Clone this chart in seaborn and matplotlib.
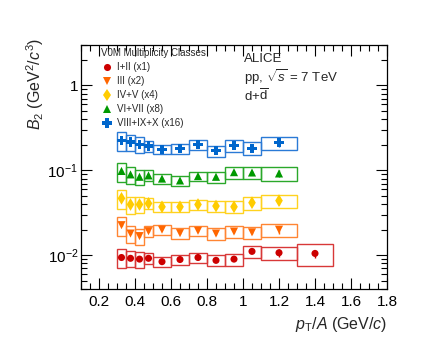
import numpy as np
import pandas as pd
import matplotlib
matplotlib.use("Agg")
import matplotlib.pyplot as plt
import seaborn as sns
from matplotlib.patches import Rectangle
from matplotlib.ticker import MultipleLocator, LogLocator, FuncFormatter, NullFormatter, FixedLocator

# ---------------- data ----------------
bin_lo = [0.30, 0.35, 0.40, 0.45, 0.50, 0.60, 0.70, 0.80, 0.90, 1.00, 1.10, 1.30]
bin_hi = [0.35, 0.40, 0.45, 0.50, 0.60, 0.70, 0.80, 0.90, 1.00, 1.10, 1.30, 1.50]

classes = ["I+II (x1)", "III (x2)", "IV+V (x4)", "VI+VII (x8)", "VIII+IX+X (x16)"]
scale = [1, 2, 4, 8, 16]

b2_I_II = [0.0094, 0.0092, 0.0090, 0.0092, 0.0084, 0.0089, 0.0094, 0.0087, 0.0090, 0.0111, 0.0107, 0.0105]
b2_III = [0.0113, 0.0090, 0.0084, 0.0096, 0.0100, 0.0091, 0.0097, 0.0090, 0.0095, 0.0093, 0.0100]
b2_IV_V = [0.0117, 0.0099, 0.0099, 0.0102, 0.0093, 0.0093, 0.0099, 0.0095, 0.0093, 0.0104, 0.0110]
b2_VI_VII = [0.0123, 0.0112, 0.0105, 0.0109, 0.0100, 0.0095, 0.0107, 0.0105, 0.0119, 0.0118, 0.0115]
b2_VIII_X = [0.0142, 0.0135, 0.0126, 0.0121, 0.0111, 0.0113, 0.0126, 0.0106, 0.0123, 0.0114, 0.0132]

syst_rel = [0.25, 0.22, 0.21, 0.15, 0.13, 0.14, 0.13, 0.15, 0.16, 0.17, 0.18, 0.28]
stat_rel = [0.02, 0.02, 0.02, 0.02, 0.02, 0.02, 0.02, 0.03, 0.03, 0.04, 0.10, 0.11]

colors = ["#cc0000", "#ff6600", "#ffcc00", "#009900", "#0066cc"]
box_colors = ["#d83838", "#ff8533", "#ffd21f", "#2aa82a", "#2a7ad6"]
markers = ["o", "v", "d", "^", "P"]
msizes = [26, 34, 42, 34, 44]

series = [b2_I_II, b2_III, b2_IV_V, b2_VI_VII, b2_VIII_X]

rows = []
for cls, sc, vals in zip(classes, scale, series):
    for i, v in enumerate(vals):
        rows.append(dict(cls=cls, x=(bin_lo[i] + bin_hi[i]) / 2, lo=bin_lo[i], hi=bin_hi[i],
                         y=v * sc, syst=syst_rel[i], stat=stat_rel[i]))
df = pd.DataFrame(rows)

# ---------------- style ----------------
sns.set_style("ticks")
plt.rcParams["font.family"] = ["Liberation Sans", "DejaVu Sans"]
plt.rcParams["mathtext.fontset"] = "custom"
plt.rcParams["mathtext.rm"] = "Liberation Sans"
plt.rcParams["mathtext.it"] = "Liberation Sans:italic"
plt.rcParams["mathtext.bf"] = "Liberation Sans:bold"

W, H = 433, 339
fig = plt.figure(figsize=(W / 100, H / 100), dpi=100)
ax = fig.add_axes([81 / W, 1 - 289 / H, 306 / W, 244 / H])
ax.set_yscale("log")

# systematic boxes
for cls, bc in zip(classes, box_colors):
    sub = df[df.cls == cls]
    for _, r in sub.iterrows():
        ax.add_patch(Rectangle((r.lo, r.y * (1 - r.syst)), r.hi - r.lo, 2 * r.y * r.syst,
                               fill=False, edgecolor=bc, lw=1.0, zorder=2))
# stat errors
for cls, c in zip(classes, colors):
    sub = df[df.cls == cls]
    ax.errorbar(sub.x, sub.y, yerr=sub.y * sub.stat, fmt="none", ecolor=c, elinewidth=1.0,
                capsize=0, zorder=3)

sns.scatterplot(data=df, x="x", y="y", hue="cls", style="cls", size="cls",
                hue_order=classes, style_order=classes, size_order=classes,
                palette=dict(zip(classes, colors)), markers=dict(zip(classes, markers)),
                sizes=dict(zip(classes, msizes)), linewidth=0, ax=ax, zorder=4, legend=True)

ax.set_xlim(0.1, 1.8)
ax.set_ylim(0.004, 3.0)

ax.xaxis.set_major_locator(MultipleLocator(0.2))
ax.xaxis.set_minor_locator(MultipleLocator(0.05))
ax.yaxis.set_major_locator(FixedLocator([0.01, 0.1, 1.0]))
ax.yaxis.set_minor_locator(LogLocator(base=10, subs=np.arange(2, 10)))
ax.yaxis.set_minor_formatter(NullFormatter())


def yfmt(v, pos):
    e = int(round(np.log10(v)))
    if e == 0:
        return "1"
    return r"$10^{%d}$" % e


ax.yaxis.set_major_formatter(FuncFormatter(yfmt))
ax.xaxis.set_major_formatter(FuncFormatter(lambda v, p: ("%g" % round(v, 2))))

ax.tick_params(which="both", direction="in", top=True, right=True, width=0.8, colors="black",
               labelsize=11)
ax.tick_params(which="major", length=8)
ax.tick_params(which="minor", length=4)
ax.tick_params(axis="x", which="both", pad=4)
ax.tick_params(axis="y", which="both", pad=2)
for sp in ax.spines.values():
    sp.set_linewidth(0.9)
    sp.set_color("black")

ax.set_xlabel(r"$p_{\rm T}/A$ (GeV/$c$)", fontsize=11.5, loc="right")
ax.xaxis.set_label_coords(1.0, -0.105)
ax.set_ylabel(r"$B_2$ (GeV$^2$/$c^3$)", fontsize=11.5, loc="top")
ax.yaxis.set_label_coords(-0.115, 1.03)

handles, labels = ax.get_legend_handles_labels()
hl = [(h, l) for h, l in zip(handles, labels) if l in classes]
leg = ax.legend([h for h, l in hl], [l for h, l in hl], title="V0M Multiplicity Classes",
                loc="upper left", bbox_to_anchor=(0.066, 0.988), frameon=False,
                fontsize=7, title_fontsize=7, alignment="left", borderpad=0,
                borderaxespad=0, handlelength=1.2, handletextpad=0.45, labelspacing=0.42)

fig.text(244 / W, 1 - 59 / H, "ALICE", fontsize=9.5, va="center", ha="left")
fig.text(244 / W, 1 - 77 / H, r"pp, $\sqrt{s}$ = 7 TeV", fontsize=9.5, va="center", ha="left")
fig.text(244 / W, 1 - 96 / H, r"d+$\overline{\mathrm{d}}$", fontsize=9.5, va="center", ha="left")

fig.savefig("out.png", dpi=100)
